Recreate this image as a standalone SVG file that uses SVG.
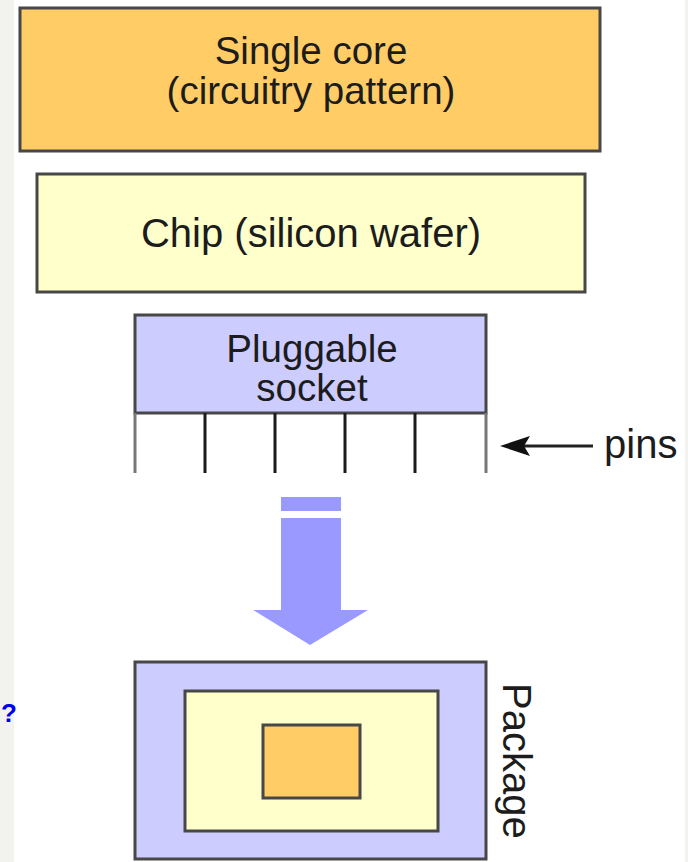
<svg xmlns="http://www.w3.org/2000/svg" width="688" height="862" viewBox="0 0 688 862">
<style>
  .lbl { font-family: "Liberation Sans", Arial, sans-serif; font-size: 40px; fill: #1c1c1c; }
  .lbl2 { font-family: "Liberation Sans", Arial, sans-serif; font-size: 38.5px; fill: #1c1c1c; }
  .box { stroke: #474747; stroke-width: 3; }
  .pin { stroke: #1a1a1a; stroke-width: 3; }
</style>
<rect x="0" y="0" width="688" height="862" fill="#ffffff"/>
<rect x="0" y="0" width="14" height="862" fill="#f2f2ee"/>
<rect x="685" y="0" width="3" height="862" fill="#f2f2ee"/>
<text x="1" y="722" font-family="Liberation Sans, Arial, sans-serif" font-size="26" font-weight="bold" fill="#0000ee">?</text>

<g id="core">
  <rect class="box" x="20" y="8" width="580" height="143" fill="#ffcc66"/>
  <text class="lbl2" x="311" y="64" text-anchor="middle">Single core</text>
  <text class="lbl2" x="311" y="104" text-anchor="middle">(circuitry pattern)</text>
</g>

<g id="chip">
  <rect class="box" x="37" y="174" width="548" height="118" fill="#ffffcc"/>
  <text class="lbl" x="311" y="247" text-anchor="middle">Chip (silicon wafer)</text>
</g>

<g id="socket">
  <rect class="box" x="135" y="315" width="351" height="98" fill="#ccccff"/>
  <text class="lbl2" x="312" y="362" text-anchor="middle">Pluggable</text>
  <text class="lbl2" x="312" y="401" text-anchor="middle">socket</text>
  <line class="pin" x1="135" y1="413" x2="135" y2="473" style="stroke:#777"/>
  <line class="pin" x1="205" y1="413" x2="205" y2="473"/>
  <line class="pin" x1="275" y1="413" x2="275" y2="473"/>
  <line class="pin" x1="345" y1="413" x2="345" y2="473"/>
  <line class="pin" x1="415" y1="413" x2="415" y2="473"/>
  <line class="pin" x1="486" y1="413" x2="486" y2="473" style="stroke:#777"/>
</g>

<g id="pins-label">
  <text class="lbl" x="604" y="458">pins</text>
</g>

<g id="package">
  <rect class="box" x="135" y="662" width="351" height="197" fill="#ccccff"/>
  <rect class="box" x="185" y="691" width="253" height="140" fill="#ffffcc"/>
  <rect class="box" x="263" y="725" width="97" height="73" fill="#ffcc66"/>
  <text class="lbl" transform="translate(503,683) rotate(90)">Package</text>
</g>

<g id="connectors">
  <line x1="593" y1="446" x2="520" y2="446" stroke="#222" stroke-width="3"/>
  <path d="M500,446 L530,436 L524,446 L530,456 Z" fill="#111"/>
  <g fill="#9999ff">
    <rect x="281" y="497" width="60" height="14"/>
    <path d="M281,518 H341 V610 H368 L310,645 L253,610 H281 Z"/>
  </g>
</g>
</svg>
